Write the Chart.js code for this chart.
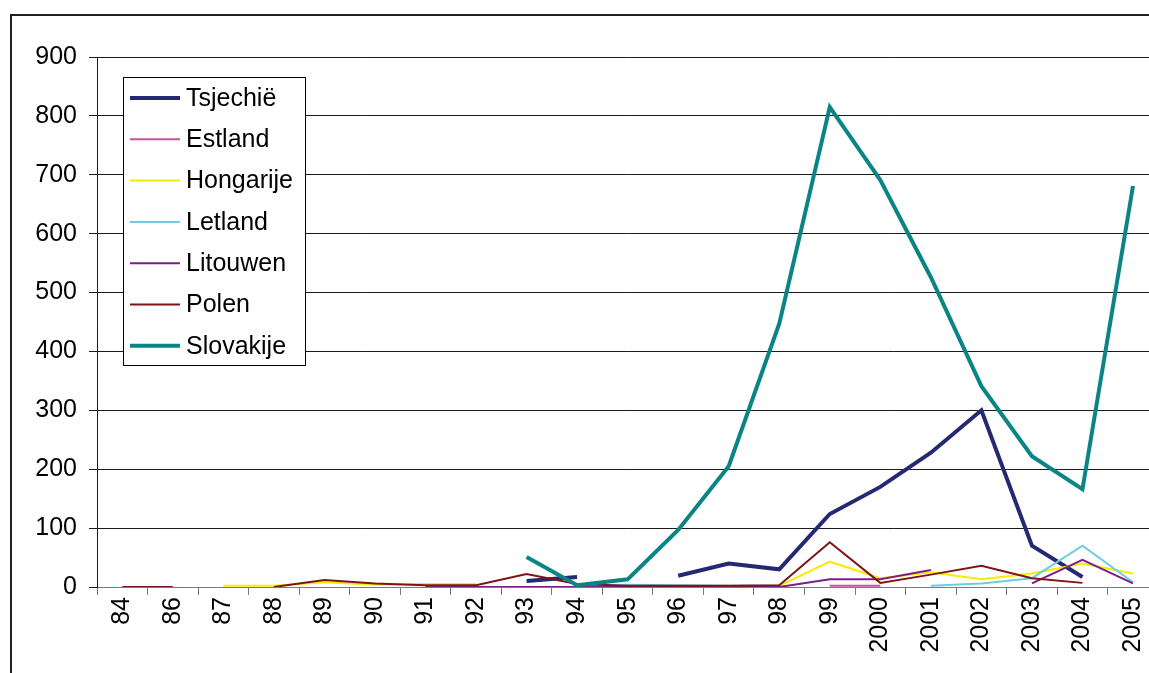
<!DOCTYPE html>
<html>
<head>
<meta charset="utf-8">
<script src="https://cdn.jsdelivr.net/npm/chart.js@4/dist/chart.umd.min.js"></script>
<style>
  html, body { margin: 0; padding: 0; background: #fff; overflow: hidden; }
  #frame { position: absolute; left: 10px; top: 14px; width: 1200px; height: 700px;
           border-left: 2px solid #231f20; border-top: 2px solid #231f20; }
  #wrap { position: absolute; left: 0; top: 0; width: 1165px; height: 673px; }
</style>
</head>
<body>
<div id="frame"></div>
<div id="wrap"><canvas id="c" width="1165" height="673"></canvas></div>
<script>
// Years on the category axis
const years = ['84', '86', '87', '88', '89', '90', '91', '92', '93', '94', '95',
               '96', '97', '98', '99', '2000', '2001', '2002', '2003', '2004', '2005'];

// Values per country (null = no figure for that year)
const tsjechie  = [null, null, null, null, null, null, null, null, 10, 17, null, 19, 40, 30, 124, 170, 228, 300, 70, 17, null];
const estland   = [null, null, null, null, null, null, null, null, null, null, null, null, null, null, 2, 2, null, null, null, null, null];
const hongarije = [null, null, 2, 2, 8, 4, 5, 5, null, null, null, null, null, 2, 43, 15, 25, 13, 23, 40, 23];
const letland   = [null, null, null, null, null, null, null, null, null, 2, 4, 3, 2, 2, null, null, 2, 6, 15, 70, 8];
const litouwen  = [null, null, null, null, null, null, 0, 0, 0, 0, 0, 0, 0, 0, 13, 13, 29, null, 6, 46, 6];
const polen     = [0, 0, null, 0, 12, 6, 3, 3, 22, 5, 2, 2, 2, 3, 76, 7, 21, 36, 15, 7, null];
const slovakije = [null, null, null, null, null, null, null, null, 51, 3, 13, 97, 205, 447, 815, 691, 526, 341, 222, 166, 681];

const yTicks = [0, 100, 200, 300, 400, 500, 600, 700, 800, 900];

const seriesDefs = [
  { label: 'Tsjechië',  data: tsjechie,  color: '#232a72', width: 4 },
  { label: 'Estland',   data: estland,   color: '#c8509e', width: 2 },
  { label: 'Hongarije', data: hongarije, color: '#f5ec00', width: 2 },
  { label: 'Letland',   data: letland,   color: '#6ccfdf', width: 2 },
  { label: 'Litouwen',  data: litouwen,  color: '#7e1f86', width: 2 },
  { label: 'Polen',     data: polen,     color: '#7f1315', width: 2 },
  { label: 'Slovakije', data: slovakije, color: '#0a8484', width: 4 }
];

const FONT = 'Liberation Sans, Arial, sans-serif';

// Legend box drawn inside the plot area
const boxLegend = {
  id: 'boxLegend',
  afterDraw(chart) {
    const ctx = chart.ctx;
    const x = 123.5, y = 77.5, w = 182, h = 288;
    ctx.save();
    ctx.fillStyle = '#fff';
    ctx.fillRect(x, y, w, h);
    ctx.strokeStyle = '#000';
    ctx.lineWidth = 1;
    ctx.strokeRect(x, y, w, h);
    ctx.font = '25px ' + FONT;
    ctx.textBaseline = 'middle';
    ctx.textAlign = 'left';
    chart.data.datasets.forEach((ds, i) => {
      const cy = 98 + i * 41.3;
      ctx.strokeStyle = ds.borderColor;
      ctx.lineWidth = ds.borderWidth;
      ctx.beginPath();
      ctx.moveTo(130, cy);
      ctx.lineTo(180, cy);
      ctx.stroke();
      ctx.fillStyle = '#000';
      ctx.fillText(ds.label, 186, cy + 1);
    });
    ctx.restore();
  }
};

new Chart(document.getElementById('c'), {
  type: 'line',
  data: {
    labels: years,
    datasets: seriesDefs.map((s, i) => ({
      label: s.label,
      data: s.data,
      borderColor: s.color,
      backgroundColor: s.color,
      borderWidth: s.width,
      pointRadius: 0,
      pointHoverRadius: 0,
      tension: 0,
      spanGaps: false,
      fill: false,
      order: seriesDefs.length - 1 - i
    }))
  },
  options: {
    responsive: false,
    animation: false,
    events: [],
    layout: { padding: { top: 57, right: 0, left: 0, bottom: 0 } },
    plugins: { legend: { display: false }, tooltip: { enabled: false } },
    scales: {
      x: {
        type: 'category',
        offset: true,
        grid: { display: true, drawOnChartArea: false, drawTicks: true, tickLength: 8,
                color: '#7a7a7a', offset: true },
        border: { display: true, color: '#7a7a7a', width: 1 },
        ticks: { font: { size: 25, family: FONT }, color: '#000', minRotation: 90, maxRotation: 90,
                 autoSkip: false, padding: 2 },
        afterFit(scale) { scale.height = 86; }
      },
      y: {
        min: 0,
        max: 900,
        afterBuildTicks(scale) { scale.ticks = yTicks.map(v => ({ value: v })); },
        grid: { color: '#1a1a1a', lineWidth: 1, drawTicks: true, tickLength: 8 },
        border: { display: true, color: '#1a1a1a', width: 1 },
        ticks: { font: { size: 25, family: FONT }, color: '#000', padding: 12 },
        afterFit(scale) { scale.width = 97; }
      }
    }
  },
  plugins: [boxLegend]
});
</script>
</body>
</html>
